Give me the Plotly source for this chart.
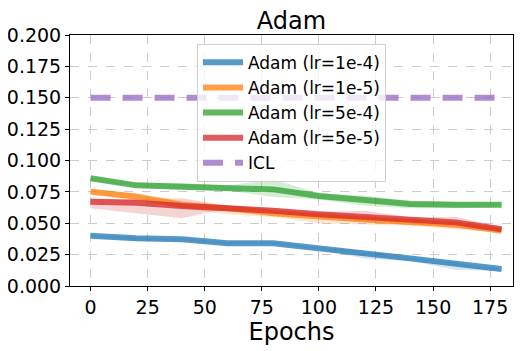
import plotly.graph_objects as go

epochs = [0, 20, 40, 60, 80, 100, 120, 140, 160, 180]

# mean curves
lr_1e4 = [0.0401, 0.038, 0.0372, 0.034, 0.034, 0.0305, 0.026, 0.022, 0.0175, 0.0135]
lr_1e5 = [0.0752, 0.0712, 0.0645, 0.062, 0.058, 0.055, 0.053, 0.051, 0.049, 0.044]
lr_5e4 = [0.0858, 0.0802, 0.079, 0.078, 0.077, 0.0717, 0.0685, 0.0653, 0.0648, 0.0648]
lr_5e5 = [0.0672, 0.0664, 0.0637, 0.0624, 0.060, 0.0571, 0.0547, 0.0526, 0.0507, 0.0452]

# shaded band edges
lr_1e4_lo = [0.039, 0.036, 0.036, 0.033, 0.033, 0.029, 0.022, 0.020, 0.013, 0.012]
lr_1e4_hi = [0.041, 0.039, 0.038, 0.035, 0.035, 0.031, 0.028, 0.023, 0.019, 0.014]
lr_1e5_lo = [0.073, 0.068, 0.062, 0.057, 0.055, 0.050, 0.049, 0.048, 0.045, 0.043]
lr_1e5_hi = [0.077, 0.074, 0.068, 0.064, 0.061, 0.058, 0.056, 0.053, 0.051, 0.045]
lr_5e4_lo = [0.084, 0.079, 0.077, 0.076, 0.071, 0.069, 0.064, 0.062, 0.062, 0.063]
lr_5e4_hi = [0.087, 0.082, 0.082, 0.080, 0.085, 0.074, 0.072, 0.068, 0.067, 0.066]
lr_5e5_lo = [0.062, 0.058, 0.054, 0.062, 0.058, 0.055, 0.051, 0.050, 0.046, 0.044]
lr_5e5_hi = [0.070, 0.069, 0.070, 0.064, 0.062, 0.059, 0.060, 0.055, 0.055, 0.047]

icl = [0.15] * len(epochs)

series = [
    ("Adam (lr=1e-4)", lr_1e4, lr_1e4_lo, lr_1e4_hi, (31, 119, 180)),
    ("Adam (lr=1e-5)", lr_1e5, lr_1e5_lo, lr_1e5_hi, (255, 127, 14)),
    ("Adam (lr=5e-4)", lr_5e4, lr_5e4_lo, lr_5e4_hi, (44, 160, 44)),
    ("Adam (lr=5e-5)", lr_5e5, lr_5e5_lo, lr_5e5_hi, (214, 39, 40)),
]

def rgba(c, a):
    return f"rgba({c[0]},{c[1]},{c[2]},{a})"

fig = go.Figure()

for name, mean, lo, hi, c in series:
    fig.add_trace(go.Scatter(x=epochs, y=hi, mode="lines", line=dict(width=0),
                             showlegend=False, hoverinfo="skip"))
    fig.add_trace(go.Scatter(x=epochs, y=lo, mode="lines", line=dict(width=0),
                             fill="tonexty", fillcolor=rgba(c, 0.2),
                             showlegend=False, hoverinfo="skip"))

for name, mean, lo, hi, c in series:
    fig.add_trace(go.Scatter(x=epochs, y=mean, mode="lines", name=name,
                             line=dict(color=rgba(c, 0.75), width=6)))

fig.add_trace(go.Scatter(x=epochs, y=icl, mode="lines", name="ICL",
                         line=dict(color=rgba((148, 103, 189), 0.75), width=6,
                                   dash="20px,12px")))

axis_common = dict(
    showline=True, linecolor="black", linewidth=1, mirror=True,
    ticks="outside", ticklen=4, tickcolor="black",
    showgrid=True, gridcolor="#cccccc", griddash="dash", gridwidth=1,
    zeroline=False, tickfont=dict(size=19, color="black"), automargin=False,
)

# the page body adds an 8px margin, so the figure is a bit smaller than the window
fig.update_layout(
    width=523, height=343,
    margin=dict(l=62, r=18, t=27, b=65),
    paper_bgcolor="white", plot_bgcolor="white",
    font=dict(family="DejaVu Sans", color="black"),
    title=dict(text="Adam", xref="paper", x=0.5, xanchor="center", y=0.962, yanchor="middle",
               font=dict(size=24)),
    xaxis=dict(range=[-9, 185], tickvals=[0, 25, 50, 75, 100, 125, 150, 175],
               title=dict(text="Epochs", font=dict(size=24), standoff=0), **axis_common),
    yaxis=dict(range=[0, 0.2], tickvals=[0, 0.025, 0.05, 0.075, 0.1, 0.125, 0.15, 0.175, 0.2],
               tickformat=".3f", **axis_common),
    legend=dict(x=0.5, xanchor="center", y=0.965, yanchor="top", traceorder="normal",
                bgcolor="rgba(255,255,255,0.8)", bordercolor="#d0d0d0", borderwidth=1,
                font=dict(size=17), tracegroupgap=0, itemwidth=40),
    showlegend=True,
)

fig.write_html("out.html")
